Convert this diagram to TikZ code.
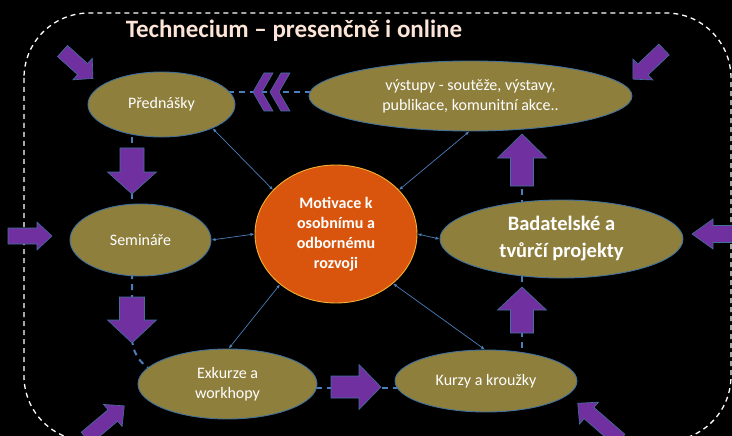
\documentclass[tikz,border=0pt]{standalone}
\usepackage{fontspec}
\setmainfont{Carlito}
\usetikzlibrary{arrows.meta,calc,shapes.geometric}
\definecolor{olivefill}{HTML}{8F7F3D}
\definecolor{ovalborder}{HTML}{41719C}
\definecolor{orangefill}{HTML}{D9540C}
\definecolor{orangeborder}{HTML}{F2B134}
\definecolor{arrowpurple}{HTML}{7030A0}
\definecolor{linkblue}{HTML}{4A7EBB}
\definecolor{titlecol}{HTML}{FCE4D6}
\pgfdeclarelayer{bg}\pgfdeclarelayer{back}\pgfsetlayers{bg,back,main}
\tikzset{
  oval/.style={ellipse, fill=olivefill, draw=ovalborder, line width=0.9pt, inner sep=0pt, text=white, align=center, font=\fontsize{16}{20}\selectfont},
  motoval/.style={ellipse, fill=orangefill, draw=orangeborder, line width=0.9pt, inner sep=0pt, text=white, align=center, font=\fontsize{16}{20}\selectfont\bfseries},
  thinlink/.style={linkblue, line width=0.7pt, {Latex[length=4pt,width=3.2pt]}-{Latex[length=4pt,width=3.2pt]}},
  dashlink/.style={linkblue, line width=2pt, dash pattern=on 6pt off 5pt},
  arrowfill/.style={fill=arrowpurple, draw=ovalborder, line width=0.6pt},
  pics/barr/.style n args={4}{code={
    \draw[arrowfill] (0,-#2) -- ({#1-#4},-#2) -- ({#1-#4},-#3) -- (#1,0) -- ({#1-#4},#3) -- ({#1-#4},#2) -- (0,#2) -- cycle;}},
  pics/chev/.style={code={
    \draw[arrowfill] (0,0) -- (11,-19) -- (20,-19) -- (9,0) -- (20,19) -- (11,19) -- cycle;}}
}
\begin{document}
\begin{tikzpicture}[x=1pt,y=-1pt]
\begin{pgfonlayer}{bg}
\fill[black] (0,0) rectangle (732,436);
\end{pgfonlayer}
\useasboundingbox (0,0) rectangle (732,436);

% frame
\draw[white, line width=1.3pt, dash pattern=on 5pt off 4pt, rounded corners=65pt] (24,13) rectangle (731,441);

% title
\node[text=titlecol, font=\fontsize{25}{29}\selectfont\bfseries] (title) at (294,31) {Technecium – presenčně i online};

% nodes
\node[oval, minimum width=147pt, minimum height=65pt] (pred) at (161.5,104.5) {Přednášky};
\node[oval, minimum width=323pt, minimum height=70pt] (vys) at (470.5,96) {výstupy - soutěže, výstavy,\\publikace, komunitní akce..};
\node[oval, minimum width=141pt, minimum height=72pt] (sem) at (140.5,240) {Semináře};
\node[motoval, minimum width=162pt, minimum height=138pt] (mot) at (336,234) {Motivace k\\osobnímu a\\odbornému\\rozvoji};
\node[oval, minimum width=243pt, minimum height=78pt, font=\fontsize{20.5}{27}\selectfont\bfseries] (bad) at (561.5,239) {Badatelské a\\tvůrčí projekty};
\node[oval, minimum width=179pt, minimum height=70pt] (exk) at (227.5,384) {Exkurze a\\workhopy};
\node[oval, minimum width=182pt, minimum height=62pt] (kur) at (486,381) {Kurzy a kroužky};

% dashed connectors (behind)
\begin{pgfonlayer}{back}
\draw[dashlink] ($(pred.center)+(0,-12.5)$) -- ($(vys.center)+(0,-4)$);
\draw[dashlink] ($(pred.center)+(-29.5,0)$) -- ($(sem.center)+(-8.5,0)$);
\draw[dashlink] ($(sem.center)+(-8.5,0)$) -- (132,340) .. controls (134,356) and (140,366) .. ($(exk.center)+(-60,-5)$);
\draw[dashlink] ($(exk.center)+(0,4)$) -- ($(kur.center)+(0,7)$);
\draw[dashlink] ($(kur.center)+(36,0)$) -- ($(bad.center)+(-39.5,0)$);
\draw[dashlink] ($(bad.center)+(-39.5,0)$) -- ($(vys.center)+(51.5,0)$);
\end{pgfonlayer}

% thin links
\draw[thinlink] (pred.-25.5) -- (mot.145);
\draw[thinlink] (sem.east) -- (mot.west);
\draw[thinlink] (mot.east) -- (bad.west);
\draw[thinlink] (mot.35) -- (vys.-92);
\draw[thinlink] (mot.222) -- (exk.88);
\draw[thinlink] (mot.-41) -- (kur.92);

% chevrons
\pic (chevA) at (253,92) {chev};
\pic (chevB) at (270,92) {chev};

% internal block arrows
\pic[rotate=-90] (arrA) at (132,148) {barr={46}{12}{24.5}{22}};
\pic[rotate=-90] (arrB) at (132,297) {barr={46}{12.5}{24.5}{23}};
\pic (arrC) at (331,387) {barr={50}{11}{22.5}{22}};
\pic[rotate=90] (arrD) at (522,333) {barr={46}{11.5}{24.5}{23}};
\pic[rotate=90] (arrE) at (522,186) {barr={52}{11.5}{24.5}{24}};

% external block arrows
\pic (arrF) at (8,236) {barr={44}{8}{14}{15}};
\pic[rotate=180] (arrG) at (742,234) {barr={50}{8.5}{15}{21}};
\pic[rotate=-42] (arrH) at (62.5,51) {barr={41}{7.5}{14.5}{14}};
\pic[rotate=-136.4] (arrI) at (664,49.5) {barr={43}{7.5}{14.5}{14}};
\pic[rotate=40] (arrJ) at (86,438) {barr={50}{7.5}{14.5}{15}};
\pic[rotate=139] (arrK) at (620,440) {barr={56}{7.5}{14.5}{15}};
\end{tikzpicture}
\end{document}
